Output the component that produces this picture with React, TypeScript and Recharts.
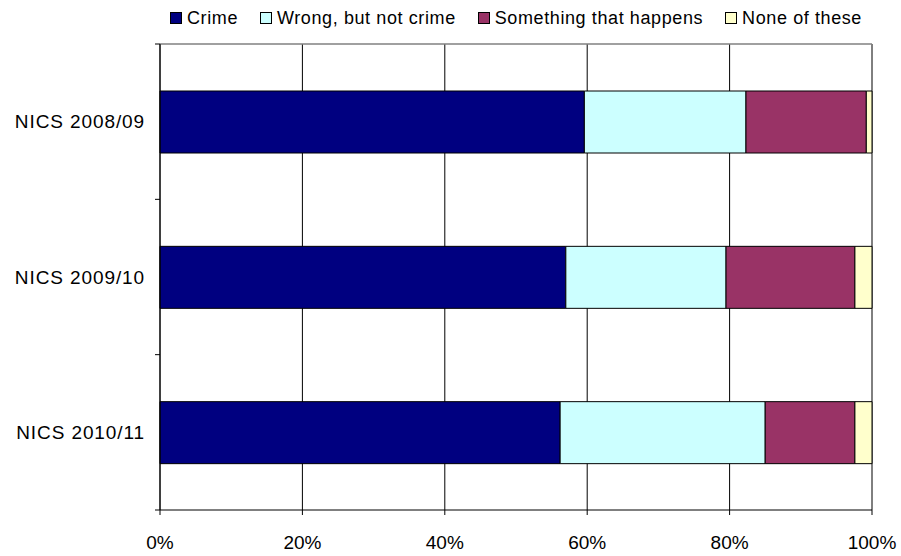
// App.tsx - NICS perception of incident, stacked 100% bar chart
import React from 'react'
import { BarChart, Bar, XAxis, YAxis, CartesianGrid, ReferenceLine } from 'recharts'

const surveys = ['NICS 2008/09', 'NICS 2009/10', 'NICS 2010/11']
const crime = [59.6, 57.0, 56.2]
const wrongNotCrime = [22.7, 22.5, 28.8]
const somethingThatHappens = [16.9, 18.1, 12.6]
const noneOfThese = [0.8, 2.4, 2.4]
const xTicks = [0, 20, 40, 60, 80, 100]

const seriesList = [
  { key: 'crime', name: 'Crime', color: '#000080' },
  { key: 'wrong', name: 'Wrong, but not crime', color: '#CCFFFF' },
  { key: 'something', name: 'Something that happens', color: '#993366' },
  { key: 'none', name: 'None of these', color: '#FFFFCC' },
]

const FONT = '"Liberation Sans", Arial, sans-serif'
const TICK_SIZE = 5
const TICK_MARGIN = 10

// category label + Excel-style tick marks on the category boundaries
const CategoryTick = (props: any) => {
  const { x, y, payload, visibleTicksCount } = props
  const half = payload?.offset ?? 0
  const axisX = x + TICK_SIZE + TICK_MARGIN
  const isLast = payload?.index === visibleTicksCount - 1
  return (
    <g>
      <text x={x} y={y} dy="0.35em" textAnchor="end" fill="#000" fontSize={19} fontFamily={FONT} letterSpacing={0.9}>
        {payload.value}
      </text>
      <line x1={axisX - TICK_SIZE} x2={axisX} y1={y - half} y2={y - half} stroke="#000" />
      {isLast && <line x1={axisX - TICK_SIZE} x2={axisX} y1={y + half} y2={y + half} stroke="#000" />}
    </g>
  )
}

export default function App() {
  const data = surveys.map((s, i) => ({
    name: s,
    crime: crime[i],
    wrong: wrongNotCrime[i],
    something: somethingThatHappens[i],
    none: noneOfThese[i],
  }))

  return (
    <div style={{ position: 'absolute', left: 0, top: 0, width: 901, height: 556, background: '#fff', fontFamily: FONT }}>
      {/* Legend */}
      <div
        style={{
          position: 'absolute', left: 160, top: 9, width: 712,
          display: 'flex', justifyContent: 'center', gap: 22,
          fontSize: 18, letterSpacing: 0.6, color: '#000', lineHeight: '18px',
        }}
      >
        {seriesList.map((s) => (
          <div key={s.key} style={{ display: 'flex', alignItems: 'center' }}>
            <span style={{ display: 'inline-block', width: 10, height: 10, background: s.color, border: '1px solid #000', marginRight: 5 }} />
            <span>{s.name}</span>
          </div>
        ))}
      </div>

      <BarChart
        width={901}
        height={556}
        data={data}
        layout="vertical"
        margin={{ top: 44, right: 29, bottom: 0, left: 0 }}
        barSize={62}
      >
        <CartesianGrid horizontal={false} vertical stroke="#000" />
        <XAxis
          type="number"
          domain={[0, 100]}
          ticks={xTicks}
          tickFormatter={(v) => `${v}%`}
          tick={{ fill: '#000', fontSize: 19, fontFamily: FONT }}
          tickSize={5}
          tickMargin={21}
          axisLine={{ stroke: '#000' }}
          tickLine={{ stroke: '#000' }}
          height={46}
          interval={0}
        />
        <YAxis
          type="category"
          dataKey="name"
          width={160}
          tickLine={false}
          tickSize={TICK_SIZE}
          tickMargin={TICK_MARGIN}
          axisLine={{ stroke: '#000' }}
          tick={<CategoryTick />}
        />
        {/* plot area top edge */}
        <ReferenceLine y={surveys[0]} position="start" stroke="#808080" strokeWidth={1.5} />
        {seriesList.map((s) => (
          <Bar
            key={s.key}
            dataKey={s.key}
            name={s.name}
            stackId="a"
            fill={s.color}
            stroke="#000"
            strokeWidth={1}
            isAnimationActive={false}
          />
        ))}
      </BarChart>
    </div>
  )
}
